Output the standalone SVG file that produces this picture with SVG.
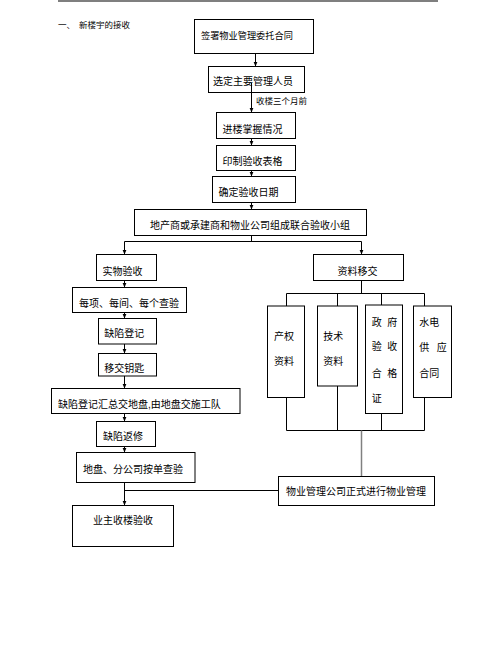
<svg xmlns="http://www.w3.org/2000/svg" width="496" height="648" viewBox="0 0 496 648">
<style>
.b{fill:#fff;stroke:#000;stroke-width:1}
.t{font-family:"Liberation Sans","Noto Sans CJK SC",sans-serif;font-size:10px;fill:#000}
.s{font-size:8.5px}
.c line,.c path{stroke:#000;stroke-width:1;fill:none}
</style>
<defs>
<marker id="ah" viewBox="0 0 6 6" markerWidth="5" markerHeight="5" refX="6" refY="3" orient="auto" markerUnits="userSpaceOnUse">
<path d="M0,0.5 L6,3 L0,5.5 z" fill="#000"/>
</marker>
</defs>
<rect width="496" height="648" fill="#fff"/>
<line x1="58" y1="1" x2="438" y2="1" stroke="#000" stroke-width="1.2"/>
<text class="t s" x="58" y="28">一、<tspan x="79">新楼宇的接收</tspan></text>

<g class="c" id="connectors">
<line x1="255.5" y1="53.5" x2="255.5" y2="66.5" marker-end="url(#ah)"/>
<line x1="251.5" y1="83" x2="251.5" y2="112.5" marker-end="url(#ah)"/>
<line x1="251.5" y1="138.5" x2="251.5" y2="145.5" marker-end="url(#ah)"/>
<line x1="251.5" y1="170.5" x2="251.5" y2="176.5" marker-end="url(#ah)"/>
<line x1="251.5" y1="202.5" x2="251.5" y2="209.5" marker-end="url(#ah)"/>
<path d="M251.5,235.5 V241.5 M124.5,241.5 H361.5"/>
<line x1="124.5" y1="241.5" x2="124.5" y2="254.5" marker-end="url(#ah)"/>
<line x1="361.5" y1="241.5" x2="361.5" y2="254.5" marker-end="url(#ah)"/>
<path d="M361.5,280.5 V293.5 M286.5,293.5 H424.5 M286.5,293.5 V306 M337.5,293.5 V306 M381.5,293.5 V305 M424.5,293.5 V306"/>
<path d="M286.5,397.5 V430.5 M337.5,386 V430.5 M381.5,413.5 V430.5 M424.5,397.5 V430.5 M286.5,430.5 H424.5"/>
<line x1="361.5" y1="430.5" x2="361.5" y2="476.5" style="stroke:#808080;stroke-width:1.5"/>
<line x1="124.5" y1="280.5" x2="124.5" y2="287.5" marker-end="url(#ah)"/>
<line x1="124.5" y1="312.5" x2="124.5" y2="318.5" marker-end="url(#ah)"/>
<line x1="124.5" y1="344" x2="124.5" y2="353.5" marker-end="url(#ah)"/>
<line x1="124.5" y1="376" x2="124.5" y2="388.5" marker-end="url(#ah)"/>
<line x1="124.5" y1="413.5" x2="124.5" y2="421.5" marker-end="url(#ah)"/>
<line x1="124.5" y1="446.5" x2="124.5" y2="452.5" marker-end="url(#ah)"/>
<line x1="124.5" y1="482.5" x2="124.5" y2="505.5" marker-end="url(#ah)"/>
<line x1="124.5" y1="490.5" x2="278.5" y2="490.5"/>
</g>
<text class="t s" x="256" y="104">收楼三个月前</text>

<g id="n1"><rect class="b" x="194.5" y="19.5" width="119" height="34"/><text class="t" x="201" y="39" style="font-size:9.2px">签署物业管理委托合同</text></g>
<g id="n2"><rect class="b" x="208.5" y="66.5" width="96" height="26"/><text class="t" x="213" y="85">选定主要管理人员</text></g>
<line x1="251.5" y1="83" x2="251.5" y2="92.5" stroke="#000"/>
<g id="n3"><rect class="b" x="216.5" y="112.5" width="79" height="26"/><text class="t" x="222.5" y="132.5">进楼掌握情况</text></g>
<g id="n4"><rect class="b" x="216.5" y="145.5" width="79" height="25"/><text class="t" x="222.5" y="165">印制验收表格</text></g>
<g id="n5"><rect class="b" x="212.5" y="176.5" width="83" height="26"/><text class="t" x="218.5" y="196">确定验收日期</text></g>
<g id="n6"><rect class="b" x="134.5" y="209.5" width="232" height="26"/><text class="t" x="150" y="229">地产商或承建商和物业公司组成联合验收小组</text></g>
<g id="n7"><rect class="b" x="96.5" y="254.5" width="60" height="26"/><text class="t" x="102.5" y="275">实物验收</text></g>
<g id="n8"><rect class="b" x="313.5" y="254.5" width="90" height="26"/><text class="t" x="337.5" y="275">资料移交</text></g>
<g id="nA"><rect class="b" x="267.5" y="306" width="37" height="91.5"/><text class="t" x="274" y="340">产权</text><text class="t" x="274" y="365">资料</text></g>
<g id="nB"><rect class="b" x="317.5" y="306" width="40" height="80"/><text class="t" x="323.3" y="340">技术</text><text class="t" x="323.3" y="365">资料</text></g>
<g id="nC"><rect class="b" x="365.5" y="305" width="37" height="108.5"/>
<text class="t" y="325.5"><tspan x="371.7">政</tspan><tspan x="387.3">府</tspan></text>
<text class="t" y="350"><tspan x="371.7">验</tspan><tspan x="387.3">收</tspan></text>
<text class="t" y="377"><tspan x="371.7">合</tspan><tspan x="387.3">格</tspan></text>
<text class="t" x="371.7" y="402">证</text></g>
<g id="nD"><rect class="b" x="413.5" y="306" width="38" height="91.5"/>
<text class="t" x="419.3" y="325.5">水电</text>
<text class="t" y="350.5"><tspan x="419.3">供</tspan><tspan x="436.7">应</tspan></text>
<text class="t" x="419.3" y="377">合同</text></g>
<g id="nE"><rect class="b" x="278.5" y="476.5" width="156" height="29"/><text class="t" x="286" y="495">物业管理公司正式进行物业管理</text></g>
<g id="n9"><rect class="b" x="72.5" y="287.5" width="114" height="25"/><text class="t" x="79" y="307">每项、每间、每个查验</text></g>
<g id="n10"><rect class="b" x="98.5" y="318.5" width="58" height="25.5"/><text class="t" x="104.3" y="337">缺陷登记</text></g>
<g id="n11"><rect class="b" x="98.5" y="353.5" width="58" height="22.5"/><text class="t" x="104.3" y="371.5">移交钥匙</text></g>
<g id="n12"><rect class="b" x="51.5" y="388.5" width="188.5" height="25"/><text class="t" x="58" y="408">缺陷登记汇总交地盘,由地盘交施工队</text></g>
<g id="n13"><rect class="b" x="96.5" y="421.5" width="59" height="25"/><text class="t" x="103" y="440">缺陷返修</text></g>
<g id="n14"><rect class="b" x="76.5" y="452.5" width="118.5" height="30"/><text class="t" x="83" y="472.5">地盘、分公司按单查验</text></g>
<g id="n15"><rect class="b" x="72.5" y="505.5" width="101" height="41"/><text class="t" x="93" y="523.5">业主收楼验收</text></g>
</svg>
